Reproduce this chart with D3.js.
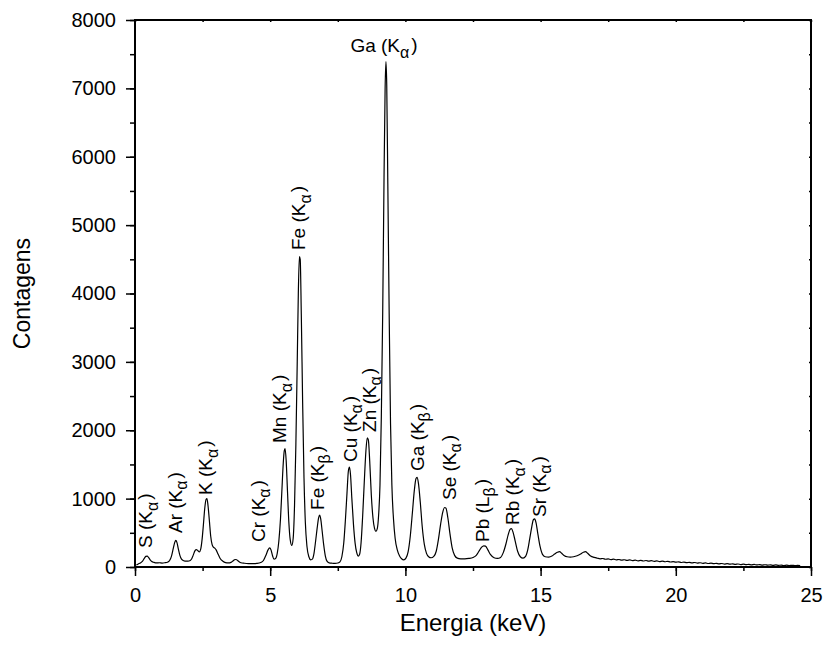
<!DOCTYPE html>
<html>
<head>
<meta charset="utf-8">
<script src="https://cdn.jsdelivr.net/npm/d3@7"></script>
<style>
  body { margin: 0; background: #fff; }
  svg { font-family: "Liberation Sans", Arial, sans-serif; }
</style>
</head>
<body>
<div id="chart"></div>
<script>
// espectro (energia em keV, contagens)
const energia = [
  0.05, 0.12, 0.2, 0.28, 0.35, 0.40, 0.45, 0.50, 0.56, 0.62, 0.70, 0.80, 0.90, 1.00, 1.10, 1.20,
  1.28, 1.35, 1.42, 1.47, 1.51, 1.55, 1.60, 1.66, 1.72, 1.80, 1.90, 2.00, 2.08, 2.15, 2.22, 2.27,
  2.32, 2.38, 2.43, 2.48, 2.53, 2.58, 2.63, 2.66, 2.70, 2.75, 2.80, 2.85, 2.90, 2.95, 3.00, 3.07,
  3.15, 3.25, 3.35, 3.45, 3.55, 3.63, 3.70, 3.76, 3.84, 3.92, 4.05, 4.20, 4.35, 4.50, 4.65, 4.75,
  4.85, 4.92, 4.98, 5.03, 5.09, 5.14, 5.20, 5.26, 5.32, 5.38, 5.43, 5.48, 5.52, 5.55, 5.59, 5.64,
  5.69, 5.74, 5.80, 5.85, 5.90, 5.95, 6.00, 6.04, 6.08, 6.11, 6.15, 6.20, 6.25, 6.30, 6.36, 6.43,
  6.50, 6.56, 6.62, 6.68, 6.74, 6.79, 6.83, 6.87, 6.92, 6.98, 7.04, 7.10, 7.18, 7.30, 7.40, 7.50,
  7.58, 7.65, 7.72, 7.78, 7.84, 7.89, 7.93, 7.97, 8.02, 8.08, 8.14, 8.20, 8.26, 8.31, 8.36, 8.42,
  8.48, 8.54, 8.59, 8.63, 8.68, 8.74, 8.80, 8.86, 8.91, 8.96, 9.01, 9.06, 9.11, 9.16, 9.21, 9.25,
  9.28, 9.31, 9.35, 9.40, 9.45, 9.50, 9.56, 9.62, 9.70, 9.78, 9.86, 9.94, 10.02, 10.10, 10.18, 10.26,
  10.33, 10.39, 10.43, 10.48, 10.55, 10.62, 10.70, 10.78, 10.86, 10.95, 11.05, 11.14, 11.22, 11.30, 11.38, 11.45,
  11.50, 11.57, 11.65, 11.73, 11.82, 11.92, 12.05, 12.20, 12.35, 12.50, 12.62, 12.72, 12.82, 12.90, 12.96, 13.05,
  13.15, 13.28, 13.40, 13.52, 13.62, 13.72, 13.80, 13.87, 13.92, 13.98, 14.06, 14.15, 14.25, 14.35, 14.45, 14.53,
  14.60, 14.67, 14.73, 14.78, 14.83, 14.90, 14.98, 15.07, 15.17, 15.30, 15.42, 15.52, 15.62, 15.70, 15.78, 15.88,
  15.98, 16.10, 16.22, 16.35, 16.48, 16.58, 16.66, 16.74, 16.85, 16.98,
  17.1, 17.2, 17.3, 17.4, 17.5, 17.6, 17.7, 17.8, 17.9, 18.0, 18.1, 18.2, 18.3, 18.4, 18.5, 18.6,
  18.7, 18.8, 18.9, 19.0, 19.1, 19.2, 19.3, 19.4, 19.5, 19.6, 19.7, 19.8, 19.9, 20.0, 20.1, 20.2,
  20.3, 20.4, 20.5, 20.6, 20.7, 20.8, 20.9, 21.0, 21.1, 21.2, 21.3, 21.4, 21.5, 21.6, 21.7, 21.8,
  21.9, 22.0, 22.1, 22.2, 22.3, 22.4, 22.5, 22.6, 22.7, 22.8, 22.9, 23.0, 23.1, 23.2, 23.3, 23.4,
  23.5, 23.6, 23.7, 23.8, 23.9, 24.0, 24.1, 24.2, 24.3, 24.4, 24.5, 24.6
]
const contagens = [
  30, 45, 60, 85, 130, 155, 160, 140, 105, 80, 68, 60, 62, 58, 62, 70,
  95, 160, 280, 360, 390, 360, 270, 170, 115, 92, 85, 88, 110, 170, 240, 255,
  240, 220, 260, 400, 620, 860, 990, 1000, 900, 680, 450, 330, 290, 275, 250, 190,
  125, 85, 65, 60, 68, 90, 110, 105, 80, 62, 55, 50, 48, 52, 65, 95,
  180, 250, 280, 250, 160, 115, 125, 200, 380, 700, 1100, 1500, 1700, 1730, 1560, 1100,
  650, 400, 315, 420, 900, 1800, 3000, 4000, 4540, 4500, 3700, 2400, 1300, 650, 300, 150,
  105, 115, 200, 380, 580, 720, 760, 700, 530, 320, 160, 85, 60, 55, 52, 58,
  75, 150, 350, 680, 1080, 1400, 1460, 1350, 1000, 620, 350, 210, 160, 190, 350, 750,
  1250, 1700, 1890, 1860, 1550, 1050, 720, 560, 520, 560, 760, 1200, 2200, 3700, 5700, 7000,
  7390, 7050, 5600, 3700, 2100, 1200, 700, 420, 250, 165, 120, 105, 130, 220, 450, 800,
  1120, 1290, 1310, 1230, 950, 600, 330, 200, 150, 135, 155, 230, 400, 620, 800, 870,
  860, 720, 480, 280, 170, 130, 120, 118, 125, 140, 170, 230, 290, 310, 305, 250,
  180, 135, 125, 140, 210, 340, 470, 550, 560, 510, 380, 230, 150, 130, 160, 260,
  420, 580, 690, 705, 650, 480, 300, 185, 150, 145, 160, 190, 215, 225, 200, 165,
  150, 145, 150, 165, 190, 215, 225, 200, 160, 140,
  128, 120, 124, 113, 118, 108, 114, 104, 110, 100, 106, 97, 103, 94, 100, 91,
  97, 88, 95, 86, 92, 82, 89, 80, 86, 77, 83, 73, 79, 70, 76, 66,
  72, 63, 69, 60, 66, 57, 62, 54, 59, 51, 57, 48, 54, 46, 51, 43,
  49, 41, 46, 38, 44, 36, 42, 34, 39, 32, 37, 30, 35, 28, 33, 27,
  31, 25, 30, 24, 28, 22, 27, 21, 25, 20, 24, 21
]

// identificação dos picos
const elementos = ['S', 'Ar', 'K', 'Cr', 'Mn', 'Fe', 'Fe', 'Cu', 'Zn', 'Ga', 'Ga', 'Se', 'Pb', 'Rb', 'Sr']
const linhas = ['K', 'K', 'K', 'K', 'K', 'K', 'K', 'K', 'K', 'K', 'K', 'K', 'L', 'K', 'K']
const subs = ['α', 'α', 'α', 'α', 'α', 'α', 'β', 'α', 'α', 'α', 'β', 'α', 'β', 'α', 'α']
const rotuloE = [0.39, 1.48, 2.61, 4.55, 5.33, 6.03, 6.75, 7.95, 8.65, 9.21, 10.45, 11.61, 12.85, 13.96, 14.94]
const rotuloC = [278, 497, 1053, 366, 1813, 4636, 834, 1536, 1975, 7532, 1404, 980, 366, 614, 731]
const horizontal = [false, false, false, false, false, false, false, false, false, true, false, false, false, false, false]

const xTicks = [0, 5, 10, 15, 20, 25]
const yTicks = [0, 1000, 2000, 3000, 4000, 5000, 6000, 7000, 8000]

const W = 824, H = 650
const margin = { top: 20, right: 13, bottom: 83, left: 135 }
const iw = W - margin.left - margin.right
const ih = H - margin.top - margin.bottom

const svg = d3.select('#chart')
  .append('svg')
  .attr('width', W)
  .attr('height', H)

const g = svg.append('g')
  .attr('transform', `translate(${margin.left},${margin.top})`)

const x = d3.scaleLinear().domain([0, 25]).range([0, iw])
const y = d3.scaleLinear().domain([0, 8000]).range([ih, 0])

const xMinor = d3.range(0, 25.01, 2.5)
const yMinor = d3.range(0, 8001, 500)

// espectro
const line = d3.line()
  .x(i => x(energia[i]))
  .y(i => y(contagens[i]))
  .curve(d3.curveMonotoneX)

g.append('path')
  .attr('d', line(d3.range(energia.length)))
  .attr('fill', 'none')
  .attr('stroke', '#000')
  .attr('stroke-width', 1.2)
  .attr('stroke-linejoin', 'round')

// eixos
const styleAxis = sel => {
  sel.select('.domain').remove()
  sel.selectAll('line').attr('stroke', '#000').attr('stroke-width', 1.5)
  sel.selectAll('text').attr('fill', '#000').style('font-size', '20px')
}

g.append('g')
  .attr('transform', `translate(0,${ih})`)
  .call(d3.axisBottom(x).tickValues(xMinor).tickSize(4).tickFormat(''))
  .call(styleAxis)
g.append('g')
  .attr('transform', `translate(0,${ih})`)
  .call(d3.axisBottom(x).tickValues(xTicks).tickSize(9).tickPadding(12).tickFormat(d3.format('d')))
  .call(styleAxis)

g.append('g')
  .call(d3.axisLeft(y).tickValues(yMinor).tickSize(5).tickFormat(''))
  .call(styleAxis)
g.append('g')
  .call(d3.axisLeft(y).tickValues(yTicks).tickSize(9).tickPadding(10).tickFormat(d3.format('d')))
  .call(styleAxis)

// ticks pequenos no topo e à direita
g.append('g')
  .call(d3.axisBottom(x).tickValues(xMinor).tickSize(2).tickFormat(''))
  .call(styleAxis)
g.append('g')
  .attr('transform', `translate(${iw},0)`)
  .call(d3.axisLeft(y).tickValues(yMinor).tickSize(2).tickFormat(''))
  .call(styleAxis)

g.append('rect')
  .attr('width', iw)
  .attr('height', ih)
  .attr('fill', 'none')
  .attr('stroke', '#000')
  .attr('stroke-width', 2)

// títulos
svg.append('text')
  .attr('x', margin.left + iw / 2)
  .attr('y', 631)
  .attr('text-anchor', 'middle')
  .style('font-size', '24px')
  .text('Energia (keV)')

svg.append('text')
  .attr('transform', `translate(30,${margin.top + ih / 2}) rotate(-90)`)
  .attr('text-anchor', 'middle')
  .style('font-size', '23px')
  .text('Contagens')

// rótulos dos picos
elementos.forEach((el, i) => {
  const px = x(rotuloE[i]), py = y(rotuloC[i])
  const t = g.append('text')
    .style('font-size', '19px')
    .attr('fill', '#000')
  if (horizontal[i]) {
    t.attr('x', px).attr('y', py).attr('text-anchor', 'middle')
  } else {
    t.attr('transform', `translate(${px},${py}) rotate(-90)`)
      .attr('dy', '0.36em')
  }
  t.append('tspan').text(`${el} (${linhas[i]}`)
  t.append('tspan').text(subs[i]).attr('dy', '0.35em').style('font-size', '16px')
  t.append('tspan').text(')').attr('dy', '-0.35em').attr('dx', '2')
})
</script>
</body>
</html>
